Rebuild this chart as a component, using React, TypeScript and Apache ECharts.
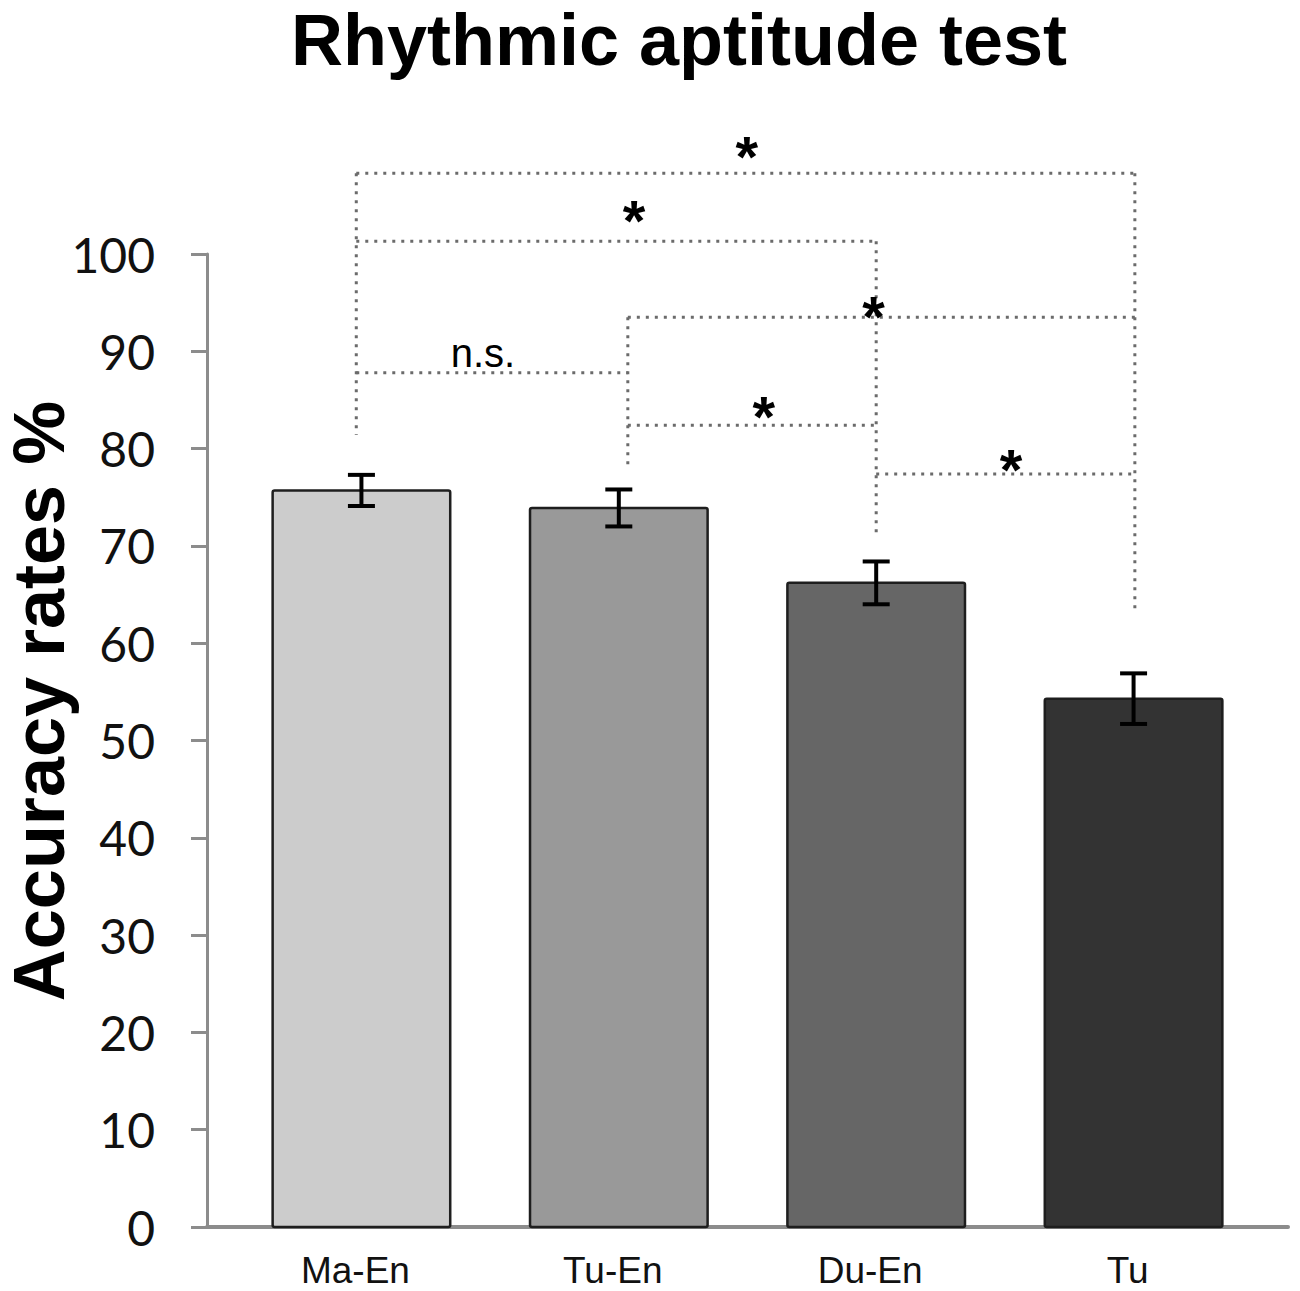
import React, { useEffect, useRef } from "react";
import * as echarts from "echarts";

// ---- data ----
const categories = ["Ma-En", "Tu-En", "Du-En", "Tu"];
const accuracy = [75.7, 73.9, 66.2, 54.3];
const stdError = [1.6, 1.9, 2.2, 2.6];
const barColors = ["#cccccc", "#999999", "#666666", "#333333"];
const yTickInterval = 10;
const yMin = 0;
const yMax = 100;

// significance brackets
const bracketAnchorX = [-0.02, 1.035, 2.0, 3.005];
const bracketLegBottom = [81.4, 78.2, 71.0, 63.3];
const bracketFrom = [0, 0, 1, 0, 1, 2];
const bracketTo = [3, 2, 3, 1, 2, 3];
const bracketLevel = [108.3, 101.3, 93.5, 87.8, 82.4, 77.4];
const bracketMark = ["*", "*", "*", "n.s.", "*", "*"];
const markX = [1.497, 1.059, 1.99, 0.472, 1.563, 2.524];
const markY = [110.9, 104.4, 94.5, 89.5, 84.2, 78.8];

const legTop = bracketAnchorX.map((_, g) => {
  let m = -Infinity;
  bracketLevel.forEach((lv, k) => {
    if (bracketFrom[k] === g || bracketTo[k] === g) m = Math.max(m, lv);
  });
  return m;
});

const DOT = { stroke: "#6b6b6b", lineWidth: 3, lineDash: [3, 6] };

export default function App() {
  const ref = useRef<HTMLDivElement>(null);
  useEffect(() => {
    document.body.style.margin = "0";
    const chart = echarts.init(ref.current!, undefined, { renderer: "svg" });
    const option: any = {
      animation: false,
      backgroundColor: "#ffffff",
      title: {
        text: "Rhythmic aptitude test",
        left: 679,
        top: 4,
        padding: 0,
        textAlign: "center",
        textStyle: {
          fontFamily: "Liberation Sans",
          fontWeight: "bold",
          fontSize: 72,
          color: "#000",
        },
      },
      graphic: [
        {
          type: "text",
          x: 39,
          y: 701,
          rotation: Math.PI / 2,
          style: {
            text: "Accuracy rates %",
            fontFamily: "Liberation Sans",
            fontWeight: "bold",
            fontSize: 72,
            fill: "#000",
            align: "center",
            verticalAlign: "middle",
          },
        },
      ],
      grid: { left: 207, right: 12, top: 254, bottom: 64 },
      xAxis: {
        type: "value",
        min: -0.6,
        max: 3.6,
        axisLine: { show: true, onZero: false, lineStyle: { color: "#8c8c8c", width: 4 } },
        axisTick: { show: false },
        axisLabel: { show: false },
        splitLine: { show: false },
      },
      yAxis: {
        type: "value",
        min: yMin,
        max: yMax,
        interval: yTickInterval,
        axisLine: { show: true, onZero: false, lineStyle: { color: "#8c8c8c", width: 3 } },
        axisTick: { show: true, length: 16, lineStyle: { color: "#8c8c8c", width: 3 } },
        axisLabel: { margin: 52, fontFamily: "Lato", fontSize: 48, color: "#111" },
        splitLine: { show: false },
      },
      series: [
        {
          type: "custom",
          name: "bars",
          data: categories.map((c, i) => [i, accuracy[i], stdError[i]]),
          encode: { x: 0, y: 1 },
          renderItem: (params: any, api: any) => {
            const i = params.dataIndex;
            const x = api.value(0);
            const v = api.value(1);
            const e = api.value(2);
            const top = api.coord([x, v]);
            const base = api.coord([x, 0]);
            const w = api.size([0.69, 0])[0];
            const eTop = api.coord([x, v + e]);
            const eBot = api.coord([x, v - e]);
            const cap = 13.5;
            return {
              type: "group",
              children: [
                {
                  type: "rect",
                  shape: { x: top[0] - w / 2, y: top[1], width: w, height: base[1] - top[1], r: 2 },
                  style: { fill: barColors[i], stroke: "#1e1e1e", lineWidth: 2.5 },
                },
                {
                  type: "line",
                  shape: { x1: top[0], y1: eTop[1], x2: top[0], y2: eBot[1] },
                  style: { stroke: "#000", lineWidth: 4 },
                },
                {
                  type: "line",
                  shape: { x1: top[0] - cap, y1: eTop[1], x2: top[0] + cap, y2: eTop[1] },
                  style: { stroke: "#000", lineWidth: 4 },
                },
                {
                  type: "line",
                  shape: { x1: top[0] - cap, y1: eBot[1], x2: top[0] + cap, y2: eBot[1] },
                  style: { stroke: "#000", lineWidth: 4 },
                },
                {
                  type: "text",
                  x: base[0] - 6,
                  y: base[1] + 25,
                  style: {
                    text: categories[i],
                    fontFamily: "Liberation Sans",
                    fontSize: 37,
                    fill: "#111",
                    align: "center",
                    verticalAlign: "top",
                  },
                },
              ],
            };
          },
        },
        {
          type: "custom",
          name: "legs",
          data: bracketAnchorX.map((x, g) => [x, legTop[g], bracketLegBottom[g]]),
          encode: { x: 0, y: [1, 2] },
          renderItem: (params: any, api: any) => {
            const a = api.coord([api.value(0), api.value(1)]);
            const b = api.coord([api.value(0), api.value(2)]);
            return {
              type: "line",
              shape: { x1: a[0], y1: a[1], x2: b[0], y2: b[1] },
              style: DOT,
            };
          },
        },
        {
          type: "custom",
          name: "brackets",
          z: 3,
          data: bracketLevel.map((lv, k) => [
            bracketAnchorX[bracketFrom[k]],
            bracketAnchorX[bracketTo[k]],
            lv,
            markX[k],
            markY[k],
          ]),
          encode: { x: [0, 1, 3], y: [2, 4] },
          renderItem: (params: any, api: any) => {
            const k = params.dataIndex;
            const a = api.coord([api.value(0), api.value(2)]);
            const b = api.coord([api.value(1), api.value(2)]);
            const m = api.coord([api.value(3), api.value(4)]);
            const isStar = bracketMark[k] === "*";
            return {
              type: "group",
              children: [
                {
                  type: "line",
                  shape: { x1: a[0], y1: a[1], x2: b[0], y2: b[1] },
                  style: DOT,
                },
                {
                  type: "text",
                  x: m[0],
                  y: isStar ? m[1] + 9 : m[1] - 3.5,
                  z2: 10,
                  style: {
                    text: bracketMark[k],
                    fontFamily: "Liberation Sans",
                    fontWeight: isStar ? "bold" : "normal",
                    fontSize: isStar ? 58 : 40,
                    fill: "#000",
                    align: "center",
                    verticalAlign: "middle",
                  },
                },
              ],
            };
          },
        },
      ],
    };
    chart.setOption(option);
    return () => chart.dispose();
  }, []);
  return <div ref={ref} style={{ width: 1300, height: 1291 }} />;
}
